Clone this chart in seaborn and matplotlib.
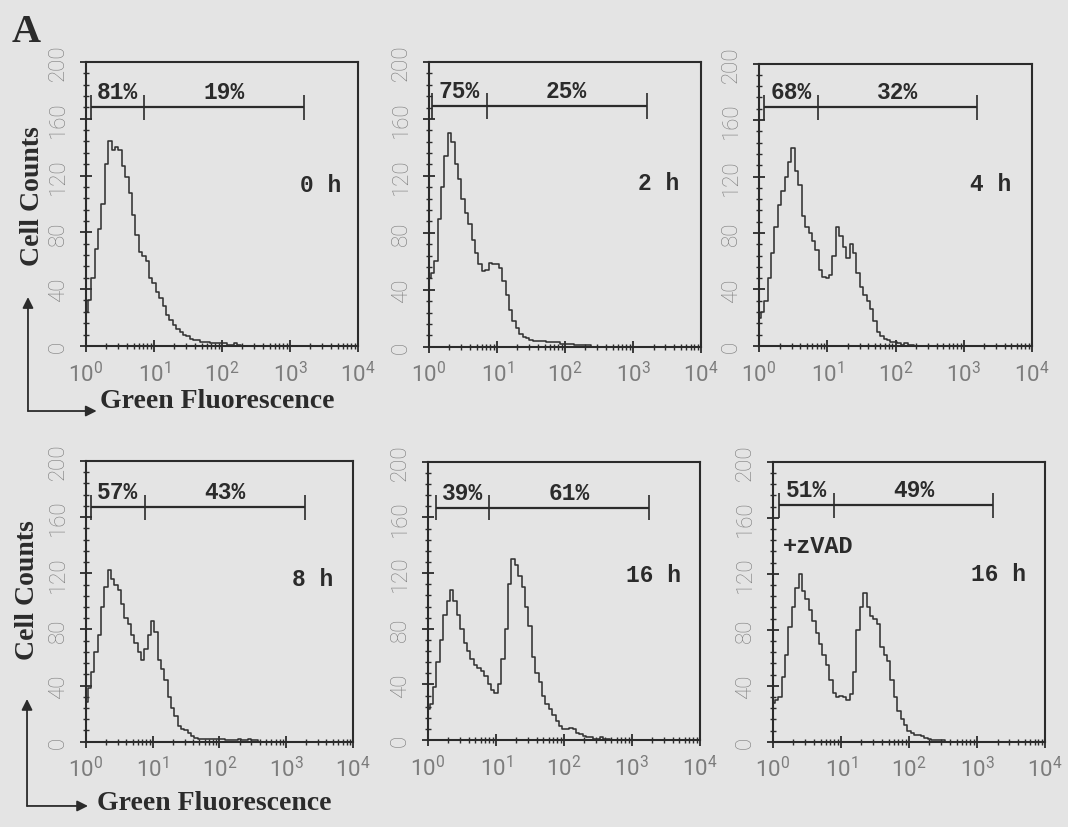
import numpy as np
import matplotlib
matplotlib.use("Agg")
import matplotlib.pyplot as plt
import seaborn as sns
from matplotlib.patches import FancyArrowPatch
from matplotlib.ticker import MultipleLocator, FixedLocator, LogLocator, NullFormatter

# histogram channels are 0.05 decade wide, starting at 10^0
CHANNEL_STEP = 0.05

counts_0h = [24, 32, 48, 68, 82, 100, 128, 144, 138, 140, 138, 127, 119, 108, 92, 78,
             66, 63, 60, 48, 44, 38, 34, 28, 22, 18, 15, 12, 10, 8, 7, 5, 4, 4, 3, 3,
             3, 2, 2, 2, 2, 2, 1, 1, 2, 1, 0]
counts_2h = [48, 52, 60, 90, 112, 134, 150, 144, 128, 118, 104, 94, 86, 75, 66, 58,
             53, 54, 59, 58, 58, 55, 46, 36, 26, 18, 13, 9, 7, 6, 5, 4, 4, 4, 4, 3,
             3, 3, 3, 2, 2, 2, 2, 1, 1, 1, 1, 1, 0]
counts_4h = [20, 24, 32, 48, 66, 84, 100, 110, 120, 130, 140, 124, 114, 92, 84, 80,
             74, 68, 54, 49, 48, 50, 64, 84, 78, 70, 62, 72, 66, 52, 42, 36, 32, 26,
             18, 10, 7, 5, 4, 3, 3, 2, 1, 2, 1, 1, 0]
counts_8h = [28, 38, 50, 64, 76, 96, 110, 122, 116, 112, 108, 98, 88, 84, 76, 70,
             64, 58, 66, 76, 86, 78, 58, 52, 44, 32, 24, 18, 11, 9, 8, 6, 4, 3, 2, 2,
             2, 2, 2, 2, 2, 2, 1, 1, 1, 1, 2, 1, 1, 2, 1, 1, 0]
counts_16h = [22, 26, 38, 56, 72, 90, 100, 108, 100, 90, 80, 70, 64, 58, 54, 52,
              50, 46, 40, 36, 34, 40, 58, 80, 112, 130, 126, 118, 110, 96, 82, 60,
              48, 42, 32, 26, 22, 18, 14, 10, 8, 8, 9, 8, 5, 4, 3, 2, 2, 1, 1, 2, 1,
              1, 0]
counts_16h_zvad = [28, 30, 32, 46, 62, 82, 96, 110, 120, 108, 102, 94, 86, 78, 70,
                   62, 55, 44, 35, 32, 33, 32, 30, 34, 50, 80, 96, 106, 96, 90, 88,
                   84, 68, 62, 58, 44, 32, 22, 16, 12, 8, 6, 5, 5, 4, 3, 2, 1, 1, 1,
                   1, 0]

time_labels = ["0 h", "2 h", "4 h", "8 h", "16 h", "16 h"]
pct_low = ["81%", "75%", "68%", "57%", "39%", "51%"]
pct_high = ["19%", "25%", "32%", "43%", "61%", "49%"]
# gate limits in decades (log10 of fluorescence) and gate bar height in counts
gate_left = [0.07, 0.05, 0.07, 0.07, 0.12, 0.09]
gate_mid = [0.85, 0.85, 0.87, 0.88, 0.90, 0.90]
gate_right = [3.21, 3.20, 3.19, 3.28, 3.25, 3.24]
gate_level = [168, 169, 169, 167, 167, 169]

all_counts = [counts_0h, counts_2h, counts_4h, counts_8h, counts_16h, counts_16h_zvad]

# layout (figure fractions) and label placement
axes_rects = [
    [0.0805, 0.581, 0.2547, 0.343],
    [0.4017, 0.580, 0.2547, 0.344],
    [0.7107, 0.581, 0.2556, 0.341],
    [0.0805, 0.103, 0.2500, 0.339],
    [0.4007, 0.105, 0.2547, 0.336],
    [0.7238, 0.103, 0.2547, 0.338],
]
time_pos = [(3.45, 114), (3.37, 115), (3.39, 115), (3.40, 116), (3.31, 119), (3.31, 120)]

BG = "#e4e4e4"
INK = "#2b2b2b"
TICK_GRAY = "#7c7c7c"

sns.set_theme(style="ticks")
plt.rcParams.update({
    "figure.facecolor": BG,
    "axes.facecolor": BG,
    "axes.edgecolor": INK,
    "axes.linewidth": 1.5,
    "mathtext.fontset": "custom",
    "mathtext.rm": "Roboto:light",
    "mathtext.it": "Roboto:light",
})
plt.rcParams["font.family"] = ["Roboto", "DejaVu Sans"]

fig = plt.figure(figsize=(10.68, 8.28), dpi=100)

for i, counts in enumerate(all_counts):
    ax = fig.add_axes(axes_rects[i])
    x = 10 ** (np.arange(len(counts)) * CHANNEL_STEP)
    sns.lineplot(x=x, y=counts, ax=ax, color="#333333", linewidth=1.15,
                 drawstyle="steps-mid", estimator=None)
    ax.set_xscale("log")
    ax.set_xlim(1, 1e4)
    ax.set_ylim(0, 200)
    ax.set_xlabel("")
    ax.set_ylabel("")

    ax.yaxis.set_major_locator(FixedLocator([0, 40, 80, 120, 160, 200]))
    ax.yaxis.set_minor_locator(MultipleLocator(8))
    ax.xaxis.set_major_locator(LogLocator(base=10, numticks=10))
    ax.xaxis.set_minor_locator(LogLocator(base=10, subs=np.arange(2, 10), numticks=50))
    ax.xaxis.set_minor_formatter(NullFormatter())
    ax.tick_params(axis="both", which="major", direction="inout", length=9, width=1.3,
                   color=INK, labelcolor=TICK_GRAY, labelsize=16)
    ax.tick_params(axis="both", which="minor", direction="inout", length=5, width=1.0,
                   color=INK)
    ax.tick_params(axis="y", which="major", pad=8, labelrotation=90)
    ax.tick_params(axis="x", which="major", pad=6)
    for lab in ax.get_yticklabels():
        lab.set_va("center")
        lab.set_family(["Roboto", "DejaVu Sans"])
        lab.set_weight("light")
    for sp in ax.spines.values():
        sp.set_visible(True)

    # gate bracket
    lvl = gate_level[i]
    xl, xm, xr = 10 ** gate_left[i], 10 ** gate_mid[i], 10 ** gate_right[i]
    ax.hlines(lvl, xl, xr, color=INK, linewidth=1.6)
    ax.vlines([xl, xm, xr], lvl - 9, lvl + 9, color=INK, linewidth=1.2)
    ax.text(10 ** ((gate_left[i] + gate_mid[i]) / 2), lvl + 3, pct_low[i],
            ha="center", va="bottom", family="Liberation Mono", weight="bold",
            fontsize=16.5, color=INK)
    ax.text(10 ** ((gate_mid[i] + gate_right[i]) / 2), lvl + 3, pct_high[i],
            ha="center", va="bottom", family="Liberation Mono", weight="bold",
            fontsize=16.5, color=INK)

    tx, ty = time_pos[i]
    ax.text(10 ** tx, ty, time_labels[i], ha="center", va="center",
            family="Liberation Mono", weight="bold", fontsize=16.5, color=INK)

    if i == 5:
        ax.text(10 ** 0.15, 140, "+zVAD", ha="left", va="center",
                family="Liberation Mono", weight="bold", fontsize=17, color=INK)

# panel letter
fig.text(0.011, 0.949, "A", ha="left", va="baseline", family="Liberation Serif",
         weight="bold", fontsize=29, color=INK)

# axis labels with L-shaped arrows (one pair per row)
label_kw = dict(family="Liberation Serif", weight="bold", fontsize=20, color=INK)
rows = [
    dict(corner=(0.0262, 0.5024), up=0.640, right=0.0905, cc=(0.030, 0.763), gf=(0.0936, 0.5157)),
    dict(corner=(0.0253, 0.0254), up=0.1546, right=0.0824, cc=(0.0262, 0.2874), gf=(0.0908, 0.030)),
]
for r in rows:
    cx, cy = r["corner"]
    fig.add_artist(FancyArrowPatch((cx, cy), (cx, r["up"]), transform=fig.transFigure,
                                   arrowstyle="-|>", mutation_scale=16, color=INK,
                                   linewidth=1.3, shrinkA=0, shrinkB=0))
    fig.add_artist(FancyArrowPatch((cx, cy), (r["right"], cy), transform=fig.transFigure,
                                   arrowstyle="-|>", mutation_scale=16, color=INK,
                                   linewidth=1.3, shrinkA=0, shrinkB=0))
    fig.text(r["cc"][0], r["cc"][1], "Cell Counts", rotation=90, ha="center",
             va="center", **label_kw)
    fig.text(r["gf"][0], r["gf"][1], "Green Fluorescence", ha="left", va="center",
             **label_kw)

fig.savefig("out.png", dpi=100, facecolor=BG)
